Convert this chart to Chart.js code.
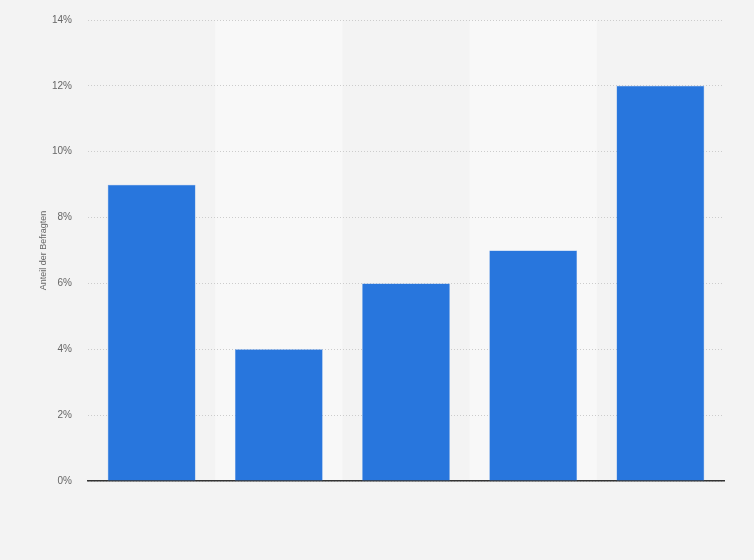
<!DOCTYPE html>
<html>
<head>
<meta charset="utf-8">
<script src="https://cdn.jsdelivr.net/npm/chart.js"></script>
<style>
  html, body { margin: 0; padding: 0; background: #f3f3f3; }
  #wrap { width: 754px; height: 560px; position: relative; }
</style>
</head>
<body>
<div id="wrap"><canvas id="chart"></canvas></div>
<script>
// chart data
const categories = ['', '', '', '', ''];
const shares = [9, 4, 6, 7, 12];
const yTicks = [0, 2, 4, 6, 8, 10, 12, 14];

// light bands behind every second category
const bandPlugin = {
  id: 'bands',
  beforeDraw(chart) {
    const { ctx, chartArea, scales } = chart;
    const x = scales.x;
    const step = x.width / categories.length;
    ctx.save();
    ctx.fillStyle = '#f8f8f8';
    categories.forEach((c, i) => {
      if (i % 2 === 1) {
        const cx = x.getPixelForValue(i);
        ctx.fillRect(cx - step / 2, chartArea.top, step, chartArea.bottom - chartArea.top);
      }
    });
    ctx.restore();
  }
};

Chart.defaults.font.family = "'Liberation Sans', Arial, sans-serif";

new Chart(document.getElementById('chart'), {
  type: 'bar',
  data: {
    labels: categories,
    datasets: [{
      data: shares,
      backgroundColor: '#2876dd',
      borderColor: '#5b96e6',
      borderWidth: 0.5,
      categoryPercentage: 0.69,
      barPercentage: 1
    }]
  },
  options: {
    responsive: true,
    maintainAspectRatio: false,
    animation: false,
    layout: { padding: { top: 20, right: 30, bottom: 79, left: 34 } },
    plugins: {
      legend: { display: false },
      tooltip: { enabled: false }
    },
    scales: {
      x: {
        grid: { display: false },
        border: { color: '#333', width: 1.5 },
        ticks: { display: false },
        afterFit(scale) { scale.height = 0; }
      },
      y: {
        min: 0,
        max: 14,
        afterBuildTicks(scale) { scale.ticks = yTicks.map(v => ({ value: v })); },
        afterFit(scale) {
          scale.width = 54;
          scale.paddingTop = 0;
          scale.paddingBottom = 0;
        },
        grid: {
          color: '#cccccc',
          drawTicks: false
        },
        border: { display: false, dash: [1, 2] },
        ticks: {
          color: '#666',
          font: { size: 10 },
          padding: 16,
          callback: v => v + '%'
        },
        title: {
          display: true,
          text: 'Anteil der Befragten',
          color: '#666',
          font: { size: 9 },
          padding: { bottom: 4 }
        }
      }
    }
  },
  plugins: [bandPlugin]
});
</script>
</body>
</html>
